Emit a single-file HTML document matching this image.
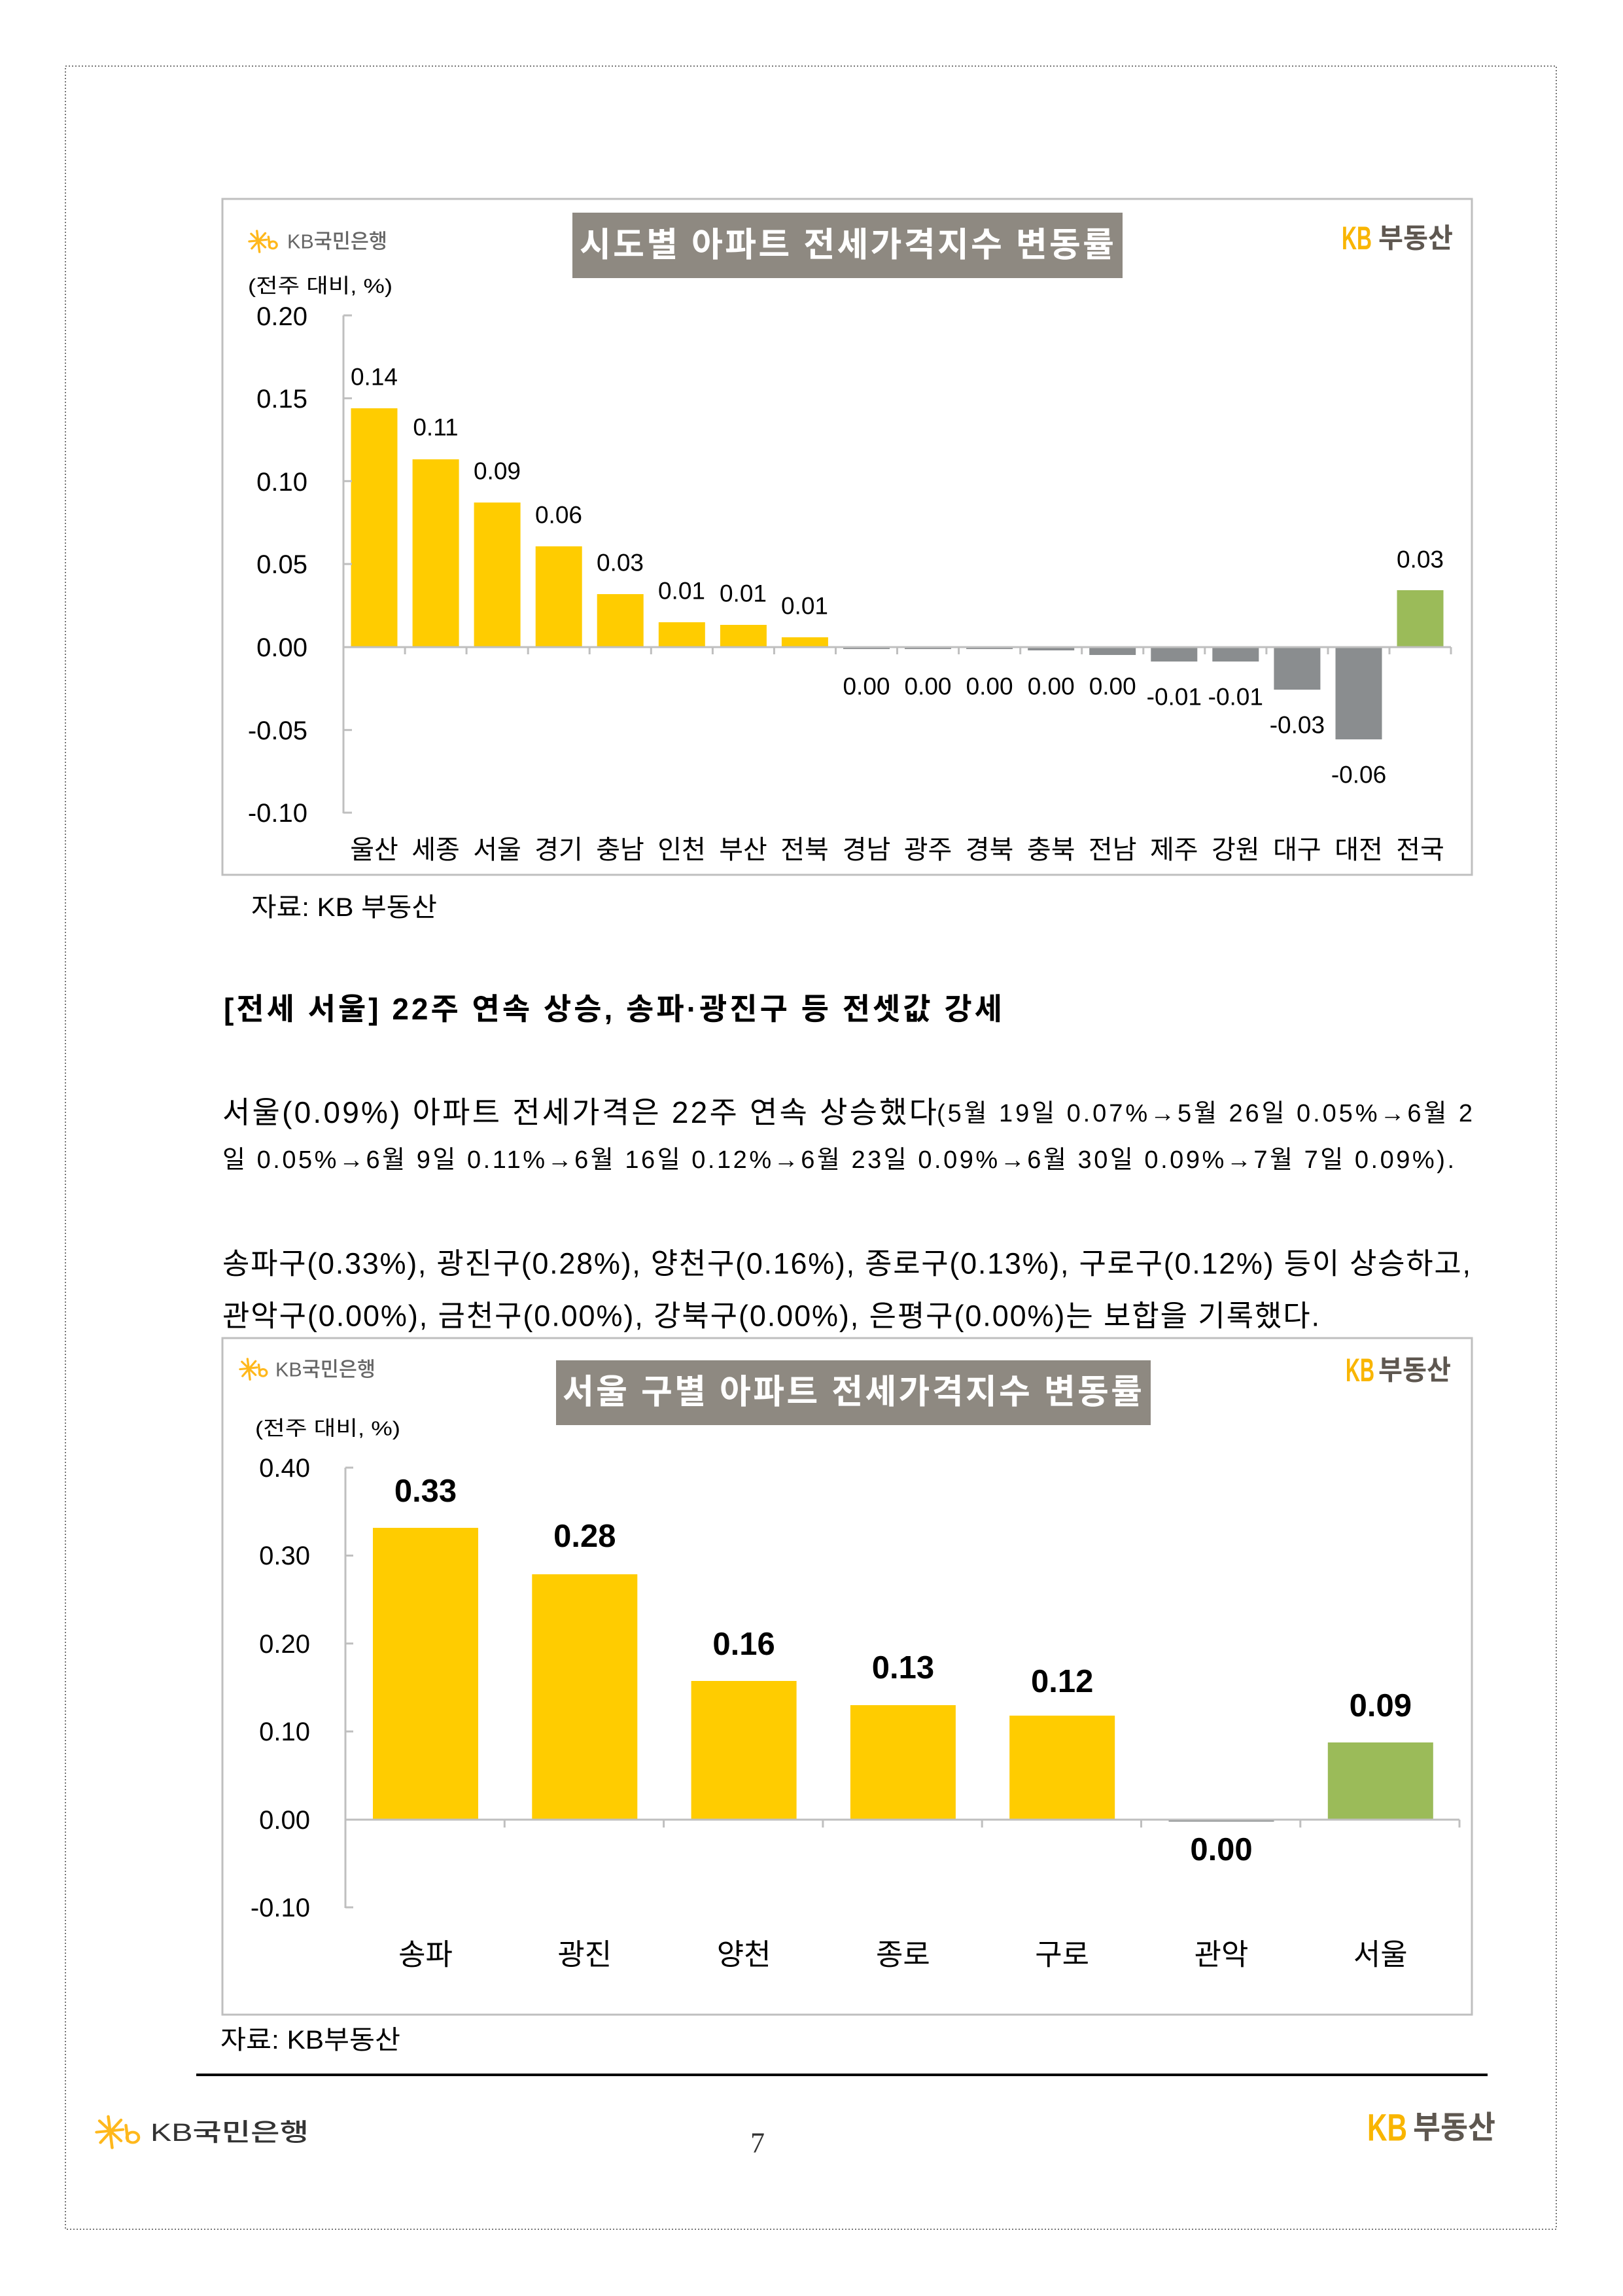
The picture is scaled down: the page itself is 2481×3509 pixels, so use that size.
<!DOCTYPE html>
<html>
<head>
<meta charset="utf-8">
<style>
html,body{margin:0;padding:0;background:#fff;}
svg{display:block;}
</style>
</head>
<body>
<svg width="2481" height="3509" viewBox="0 0 2481 3509" xmlns="http://www.w3.org/2000/svg" font-family="'Liberation Sans','Noto Sans CJK KR',sans-serif">
<rect x="0" y="0" width="2481" height="3509" fill="#fff"/>
<!-- page border -->
<rect x="100" y="101" width="2279" height="3306" fill="none" stroke="#777" stroke-width="2" stroke-dasharray="2 3"/>

<!-- ================= CHART 1 ================= -->
<rect x="340" y="304" width="1910" height="1033" fill="#fff" stroke="#BFBFBF" stroke-width="3"/>
<g transform="translate(380,351) scale(0.98,0.9)" stroke="#FFB81C" stroke-width="3.5" stroke-linecap="round" fill="none">
  <line x1="13" y1="2" x2="17" y2="38"/>
  <line x1="1" y1="20" x2="28" y2="17"/>
  <line x1="4" y1="7" x2="26" y2="30"/>
  <line x1="26" y1="6" x2="5" y2="32"/>
  <line x1="31" y1="12" x2="33" y2="30"/>
  <circle cx="38" cy="26" r="6"/>
</g>
<text x="439" y="369" font-size="31" font-weight="500" fill="#666" dominant-baseline="central" textLength="153" lengthAdjust="spacingAndGlyphs">KB국민은행</text>
<rect x="875" y="325" width="841" height="100" fill="#8E8981"/>
<text x="886" y="375" font-size="52" font-weight="bold" fill="#fff" dominant-baseline="central" textLength="817" lengthAdjust="spacing">시도별 아파트 전세가격지수 변동률</text>
<text x="2051" y="364" font-size="50" font-weight="bold" fill="#F9B500" dominant-baseline="central" textLength="46" lengthAdjust="spacingAndGlyphs">KB</text>
<text x="2107" y="364" font-size="42" font-weight="bold" fill="#5E5750" dominant-baseline="central" textLength="114" lengthAdjust="spacingAndGlyphs">부동산</text>
<text x="379" y="437" font-size="31" fill="#000" dominant-baseline="central" textLength="221" lengthAdjust="spacingAndGlyphs">(전주 대비, %)</text>
<g font-size="40" fill="#000" text-anchor="end" dominant-baseline="central">
  <text x="470" y="484">0.20</text>
  <text x="470" y="610">0.15</text>
  <text x="470" y="737">0.10</text>
  <text x="470" y="863">0.05</text>
  <text x="470" y="990">0.00</text>
  <text x="470" y="1117">-0.05</text>
  <text x="470" y="1243">-0.10</text>
</g>
<g fill="#FFCC00">
  <rect x="536.5" y="624" width="71" height="365"/>
  <rect x="630.6" y="702" width="71" height="287"/>
  <rect x="724.6" y="768" width="71" height="221"/>
  <rect x="818.7" y="835" width="71" height="154"/>
  <rect x="912.7" y="908" width="71" height="81"/>
  <rect x="1006.8" y="951" width="71" height="38"/>
  <rect x="1100.9" y="955" width="71" height="34"/>
  <rect x="1194.9" y="974" width="71" height="15"/>
</g>
<g fill="#8A8D8F">
  <rect x="1289" y="989" width="71" height="3"/>
  <rect x="1383" y="989" width="71" height="3"/>
  <rect x="1477.1" y="989" width="71" height="3"/>
  <rect x="1571.2" y="989" width="71" height="5"/>
  <rect x="1665.2" y="989" width="71" height="12"/>
  <rect x="1759.3" y="989" width="71" height="22"/>
  <rect x="1853.3" y="989" width="71" height="22"/>
  <rect x="1947.4" y="989" width="71" height="65"/>
  <rect x="2041.5" y="989" width="71" height="141"/>
</g>
<rect x="2135.5" y="902" width="71" height="87" fill="#9BBB59"/>
<g stroke="#BFBFBF" stroke-width="3" fill="none">
  <line x1="525" y1="482" x2="525" y2="1243"/>
  <line x1="525" y1="482" x2="538" y2="482"/>
  <line x1="525" y1="608.7" x2="538" y2="608.7"/>
  <line x1="525" y1="735.3" x2="538" y2="735.3"/>
  <line x1="525" y1="862" x2="538" y2="862"/>
  <line x1="525" y1="1115.7" x2="538" y2="1115.7"/>
  <line x1="525" y1="1242" x2="538" y2="1242"/>
  <line x1="525" y1="989" x2="2218" y2="989"/>
  <line x1="619.1" y1="989" x2="619.1" y2="1000"/>
  <line x1="713.1" y1="989" x2="713.1" y2="1000"/>
  <line x1="807.2" y1="989" x2="807.2" y2="1000"/>
  <line x1="901.2" y1="989" x2="901.2" y2="1000"/>
  <line x1="995.3" y1="989" x2="995.3" y2="1000"/>
  <line x1="1089.4" y1="989" x2="1089.4" y2="1000"/>
  <line x1="1183.4" y1="989" x2="1183.4" y2="1000"/>
  <line x1="1277.5" y1="989" x2="1277.5" y2="1000"/>
  <line x1="1371.5" y1="989" x2="1371.5" y2="1000"/>
  <line x1="1465.6" y1="989" x2="1465.6" y2="1000"/>
  <line x1="1559.7" y1="989" x2="1559.7" y2="1000"/>
  <line x1="1653.7" y1="989" x2="1653.7" y2="1000"/>
  <line x1="1747.8" y1="989" x2="1747.8" y2="1000"/>
  <line x1="1841.8" y1="989" x2="1841.8" y2="1000"/>
  <line x1="1935.9" y1="989" x2="1935.9" y2="1000"/>
  <line x1="2030" y1="989" x2="2030" y2="1000"/>
  <line x1="2124" y1="989" x2="2124" y2="1000"/>
  <line x1="2218" y1="989" x2="2218" y2="1000"/>
</g>
<g font-size="37" fill="#000" text-anchor="middle" dominant-baseline="central">
  <text x="572" y="576">0.14</text>
  <text x="666" y="653">0.11</text>
  <text x="760" y="720">0.09</text>
  <text x="854" y="787">0.06</text>
  <text x="948" y="860">0.03</text>
  <text x="1042" y="903">0.01</text>
  <text x="1136" y="907">0.01</text>
  <text x="1230" y="926">0.01</text>
  <text x="1324.5" y="1049">0.00</text>
  <text x="1418.5" y="1049">0.00</text>
  <text x="1512.6" y="1049">0.00</text>
  <text x="1606.7" y="1049">0.00</text>
  <text x="1700.7" y="1049">0.00</text>
  <text x="1794.8" y="1065">-0.01</text>
  <text x="1888.8" y="1065">-0.01</text>
  <text x="1982.9" y="1108">-0.03</text>
  <text x="2077" y="1184">-0.06</text>
  <text x="2171" y="855">0.03</text>
</g>
<g font-size="40" fill="#000" text-anchor="middle" dominant-baseline="central">
  <text x="572" y="1299">울산</text>
  <text x="666" y="1299">세종</text>
  <text x="760" y="1299">서울</text>
  <text x="854" y="1299">경기</text>
  <text x="948" y="1299">충남</text>
  <text x="1042" y="1299">인천</text>
  <text x="1136" y="1299">부산</text>
  <text x="1230" y="1299">전북</text>
  <text x="1324.5" y="1299">경남</text>
  <text x="1418.5" y="1299">광주</text>
  <text x="1512.6" y="1299">경북</text>
  <text x="1606.7" y="1299">충북</text>
  <text x="1700.7" y="1299">전남</text>
  <text x="1794.8" y="1299">제주</text>
  <text x="1888.8" y="1299">강원</text>
  <text x="1982.9" y="1299">대구</text>
  <text x="2077" y="1299">대전</text>
  <text x="2171" y="1299">전국</text>
</g>

<text x="384" y="1387" font-size="40" fill="#000" dominant-baseline="central" textLength="284" lengthAdjust="spacingAndGlyphs">자료: KB 부동산</text>

<!-- ================= TEXT ================= -->
<text x="342" y="1542" font-size="46" font-weight="bold" fill="#000" dominant-baseline="central" textLength="1190" lengthAdjust="spacing">[전세 서울] 22주 연속 상승, 송파·광진구 등 전셋값 강세</text>

<text x="340" y="1700" font-size="46" fill="#000" dominant-baseline="central" textLength="1092" lengthAdjust="spacing">서울(0.09%) 아파트 전세가격은 22주 연속 상승했다</text>
<text x="1432" y="1702" font-size="38" fill="#000" dominant-baseline="central" textLength="819" lengthAdjust="spacing">(5월 19일 0.07%→5월 26일 0.05%→6월 2</text>
<text x="340" y="1773" font-size="38" fill="#000" dominant-baseline="central" textLength="1883" lengthAdjust="spacing">일 0.05%→6월 9일 0.11%→6월 16일 0.12%→6월 23일 0.09%→6월 30일 0.09%→7월 7일 0.09%).</text>

<text x="340" y="1931" font-size="45" fill="#000" dominant-baseline="central" textLength="1908" lengthAdjust="spacing">송파구(0.33%), 광진구(0.28%), 양천구(0.16%), 종로구(0.13%), 구로구(0.12%) 등이 상승하고,</text>
<text x="340" y="2011" font-size="45" fill="#000" dominant-baseline="central" textLength="1677" lengthAdjust="spacing">관악구(0.00%), 금천구(0.00%), 강북구(0.00%), 은평구(0.00%)는 보합을 기록했다.</text>

<!-- ================= CHART 2 ================= -->
<rect x="340" y="2045" width="1910" height="1034" fill="#fff" stroke="#BFBFBF" stroke-width="3"/>
<g transform="translate(366,2075) scale(0.95,0.88)" stroke="#FFB81C" stroke-width="3.5" stroke-linecap="round" fill="none">
  <line x1="13" y1="2" x2="17" y2="38"/>
  <line x1="1" y1="20" x2="28" y2="17"/>
  <line x1="4" y1="7" x2="26" y2="30"/>
  <line x1="26" y1="6" x2="5" y2="32"/>
  <line x1="31" y1="12" x2="33" y2="30"/>
  <circle cx="38" cy="26" r="6"/>
</g>
<text x="421" y="2093" font-size="31" font-weight="500" fill="#666" dominant-baseline="central" textLength="153" lengthAdjust="spacingAndGlyphs">KB국민은행</text>
<rect x="850" y="2079" width="909" height="99" fill="#8E8981"/>
<text x="860" y="2128" font-size="52" font-weight="bold" fill="#fff" dominant-baseline="central" textLength="886" lengthAdjust="spacing">서울 구별 아파트 전세가격지수 변동률</text>
<text x="2057" y="2094" font-size="50" font-weight="bold" fill="#F9B500" dominant-baseline="central" textLength="44" lengthAdjust="spacingAndGlyphs">KB</text>
<text x="2107" y="2094" font-size="42" font-weight="bold" fill="#5E5750" dominant-baseline="central" textLength="111" lengthAdjust="spacingAndGlyphs">부동산</text>
<text x="390" y="2183" font-size="31" fill="#000" dominant-baseline="central" textLength="222" lengthAdjust="spacingAndGlyphs">(전주 대비, %)</text>

<g font-size="40" fill="#000" text-anchor="end" dominant-baseline="central">
  <text x="474" y="2244">0.40</text>
  <text x="474" y="2378">0.30</text>
  <text x="474" y="2513">0.20</text>
  <text x="474" y="2647">0.10</text>
  <text x="474" y="2782">0.00</text>
  <text x="474" y="2916">-0.10</text>
</g>
<g fill="#FFCC00">
  <rect x="570" y="2335" width="161" height="446"/>
  <rect x="813.3" y="2406" width="161" height="375"/>
  <rect x="1056.6" y="2569" width="161" height="212"/>
  <rect x="1299.9" y="2606" width="161" height="175"/>
  <rect x="1543.2" y="2622" width="161" height="159"/>
</g>
<rect x="1786.5" y="2781" width="161" height="3" fill="#8A8D8F"/>
<rect x="2029.8" y="2663" width="161" height="118" fill="#9BBB59"/>
<g stroke="#BFBFBF" stroke-width="3" fill="none">
  <line x1="528" y1="2243" x2="528" y2="2916"/>
  <line x1="528" y1="2243" x2="540" y2="2243"/>
  <line x1="528" y1="2377.4" x2="540" y2="2377.4"/>
  <line x1="528" y1="2511.8" x2="540" y2="2511.8"/>
  <line x1="528" y1="2646.2" x2="540" y2="2646.2"/>
  <line x1="528" y1="2915" x2="540" y2="2915"/>
  <line x1="528" y1="2781" x2="2231" y2="2781"/>
  <line x1="771.3" y1="2781" x2="771.3" y2="2793"/>
  <line x1="1014.6" y1="2781" x2="1014.6" y2="2793"/>
  <line x1="1257.9" y1="2781" x2="1257.9" y2="2793"/>
  <line x1="1501.2" y1="2781" x2="1501.2" y2="2793"/>
  <line x1="1744.5" y1="2781" x2="1744.5" y2="2793"/>
  <line x1="1987.8" y1="2781" x2="1987.8" y2="2793"/>
  <line x1="2231" y1="2781" x2="2231" y2="2793"/>
</g>
<g font-size="49" font-weight="bold" fill="#000" text-anchor="middle" dominant-baseline="central">
  <text x="650.5" y="2279">0.33</text>
  <text x="893.8" y="2348">0.28</text>
  <text x="1137.1" y="2513">0.16</text>
  <text x="1380.4" y="2549">0.13</text>
  <text x="1623.7" y="2570">0.12</text>
  <text x="1867" y="2827">0.00</text>
  <text x="2110.3" y="2607">0.09</text>
</g>
<g font-size="45" fill="#000" text-anchor="middle" dominant-baseline="central">
  <text x="650.5" y="2987">송파</text>
  <text x="893.8" y="2987">광진</text>
  <text x="1137.1" y="2987">양천</text>
  <text x="1380.4" y="2987">종로</text>
  <text x="1623.7" y="2987">구로</text>
  <text x="1867" y="2987">관악</text>
  <text x="2110.3" y="2987">서울</text>
</g>

<text x="337" y="3118" font-size="40" fill="#000" dominant-baseline="central" textLength="275" lengthAdjust="spacingAndGlyphs">자료: KB부동산</text>

<!-- ================= FOOTER ================= -->
<rect x="300" y="3169" width="1974" height="4" fill="#000"/>
<g transform="translate(146,3232) scale(1.5,1.33)" stroke="#FFB81C" stroke-width="3" stroke-linecap="round" fill="none">
  <line x1="13" y1="2" x2="17" y2="38"/>
  <line x1="1" y1="20" x2="28" y2="17"/>
  <line x1="4" y1="7" x2="26" y2="30"/>
  <line x1="26" y1="6" x2="5" y2="32"/>
  <line x1="31" y1="12" x2="33" y2="30"/>
  <circle cx="38" cy="26" r="6"/>
</g>
<text x="230" y="3260" font-size="38" font-weight="500" fill="#333" dominant-baseline="central" textLength="242" lengthAdjust="spacingAndGlyphs">KB국민은행</text>
<text x="1158" y="3275" font-size="44" fill="#333" font-family="'Liberation Serif',serif" text-anchor="middle" dominant-baseline="central">7</text>
<text x="2090" y="3252" font-size="58" font-weight="bold" fill="#F9B500" dominant-baseline="central" textLength="61" lengthAdjust="spacingAndGlyphs">KB</text>
<text x="2160" y="3252" font-size="48" font-weight="bold" fill="#5E5750" dominant-baseline="central" textLength="126" lengthAdjust="spacingAndGlyphs">부동산</text>
</svg>
</body>
</html>
